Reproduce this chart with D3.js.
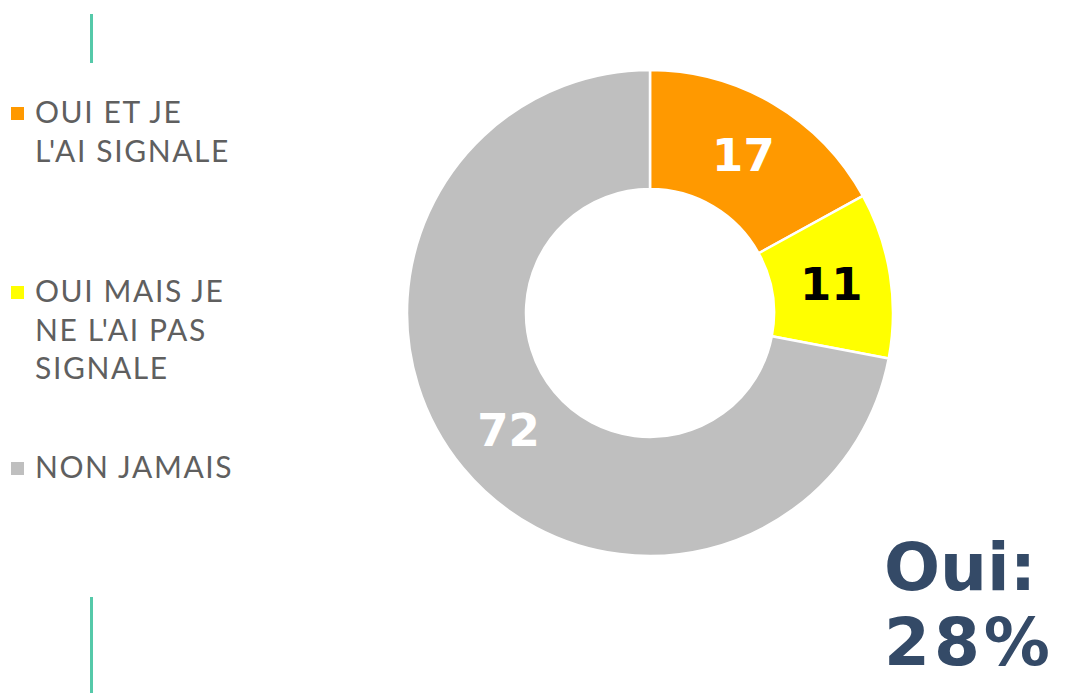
<!DOCTYPE html>
<html>
<head>
<meta charset="utf-8" />
<title>Oui: 28%</title>
<script src="https://cdn.jsdelivr.net/npm/d3@7"></script>
<style>
  html, body { margin: 0; background: #fff; }
  svg { display: block; }
  .legend text { font-family: Lato, "Open Sans", sans-serif; font-weight: 400; font-size: 30px; letter-spacing: 1.6px; fill: #5f5f5f; }
  .lbl { font-family: "DejaVu Sans", sans-serif; font-weight: bold; font-size: 45px; }
  .total { font-family: "DejaVu Sans", sans-serif; font-weight: bold; font-size: 66px; fill: #344a67; }
</style>
</head>
<body>
<div id="container"></div>
<script>
var categories = ["OUI ET JE L'AI SIGNALE", "OUI MAIS JE NE L'AI PAS SIGNALE", "NON JAMAIS"];
var legendLines = [["OUI ET JE", "L'AI SIGNALE"], ["OUI MAIS JE", "NE L'AI PAS", "SIGNALE"], ["NON JAMAIS"]];
var values = [17, 11, 72];
var colors = ["#ff9900", "#ffff00", "#bfbfbf"];
var labelColors = ["#ffffff", "#000000", "#ffffff"];
var totalLines = ["Oui:", "28%"];

var W = 1086, H = 693;
var svg = d3.select("#container").append("svg")
    .attr("width", W).attr("height", H);

// decorative teal rules
svg.append("line").attr("x1", 91.5).attr("x2", 91.5).attr("y1", 14).attr("y2", 63)
    .attr("stroke", "#55c9a9").attr("stroke-width", 3);
svg.append("line").attr("x1", 91.5).attr("x2", 91.5).attr("y1", 597).attr("y2", 693)
    .attr("stroke", "#55c9a9").attr("stroke-width", 3);

// donut
var pie = d3.pie().sort(null).value(function(d) { return d; });
var arc = d3.arc().innerRadius(124).outerRadius(243);
var g = svg.append("g").attr("transform", "translate(650,313)");
var arcs = pie(values);

g.selectAll("path").data(arcs).enter().append("path")
    .attr("d", arc)
    .attr("fill", function(d, i) { return colors[i]; })
    .attr("stroke", "#fff")
    .attr("stroke-width", 2.5)
    .attr("stroke-linejoin", "miter");

g.selectAll("text").data(arcs).enter().append("text")
    .attr("class", "lbl")
    .attr("transform", function(d) { return "translate(" + arc.centroid(d) + ")"; })
    .attr("text-anchor", "middle")
    .attr("dy", "0.36em")
    .attr("fill", function(d, i) { return labelColors[i]; })
    .text(function(d) { return d.data; });

// legend
var legendY = [123, 302, 478];
var lg = svg.append("g").attr("class", "legend");
legendLines.forEach(function(lines, i) {
  lg.append("rect")
      .attr("x", 11).attr("y", legendY[i] - 16)
      .attr("width", 13).attr("height", 13)
      .attr("fill", colors[i]);
  var t = lg.append("text").attr("x", 35).attr("y", legendY[i]);
  lines.forEach(function(s, j) {
    t.append("tspan").attr("x", 35).attr("dy", j ? 38.5 : 0).text(s);
  });
});

// total
svg.selectAll("text.total").data(totalLines).enter().append("text")
    .attr("class", "total")
    .attr("x", 884)
    .attr("y", function(d, i) { return 590 + i * 75; })
    .attr("letter-spacing", function(d, i) { return i ? "4px" : "0px"; })
    .text(function(d) { return d; });
</script>
</body>
</html>
